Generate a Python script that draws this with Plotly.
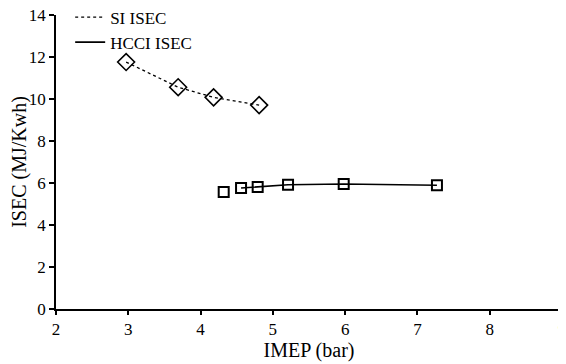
import plotly.graph_objects as go

si_imep = [2.97, 3.69, 4.18, 4.81]
si_isec = [11.76, 10.56, 10.08, 9.71]
hcci_imep = [4.32, 4.56, 4.79, 5.21, 5.98, 7.27]
hcci_isec = [5.57, 5.76, 5.81, 5.92, 5.95, 5.89]

x_ticks = [2, 3, 4, 5, 6, 7, 8, 9]
y_ticks = [0, 2, 4, 6, 8, 10, 12, 14]

FONT = "Liberation Serif"
fig = go.Figure()
fig.add_trace(go.Scatter(x=si_imep, y=si_isec, mode="lines", name="SI ISEC",
                         line=dict(color="black", width=1.3, dash="dot")))
fig.add_trace(go.Scatter(x=hcci_imep[1:], y=hcci_isec[1:], mode="lines", name="HCCI ISEC",
                         line=dict(color="black", width=1.6)))
fig.add_trace(go.Scatter(x=si_imep, y=si_isec, mode="markers", showlegend=False,
                         marker=dict(symbol="diamond-open", size=13, color="black",
                                     line=dict(width=1.6, color="black"))))
fig.add_trace(go.Scatter(x=hcci_imep, y=hcci_isec, mode="markers", showlegend=False,
                         marker=dict(symbol="square-open", size=10, color="black",
                                     line=dict(width=2, color="black"))))

fig.update_layout(
    width=558, height=356,
    margin=dict(l=48, r=4, t=7, b=55, autoexpand=False),
    paper_bgcolor="white", plot_bgcolor="white",
    font=dict(family=FONT, size=17, color="black"),
    showlegend=True,
    legend=dict(x=0.028, y=0.949, xanchor="left", yanchor="middle",
                bgcolor="rgba(0,0,0,0)",
                font=dict(family=FONT, size=17), tracegroupgap=0, itemwidth=30),
    xaxis=dict(range=[2, 9], tickvals=x_ticks, showgrid=False, zeroline=False,
               showline=True, linecolor="black", linewidth=1.5, automargin=False,
               ticks="outside", ticklen=4, tickwidth=1.5, tickcolor="black",
               ticklabeloverflow="allow",
               title=dict(text="IMEP (bar)", standoff=4), tickfont=dict(size=17)),
    yaxis=dict(range=[0, 14], tickvals=y_ticks, showgrid=False, zeroline=False,
               showline=True, linecolor="black", linewidth=1.5, automargin=False,
               ticks="outside", ticklen=5, tickwidth=1.5, tickcolor="black",
               ticklabeloverflow="allow",
               title=dict(text="ISEC (MJ/Kwh)", standoff=0), tickfont=dict(size=17)),
)
fig.write_html("out.html")
